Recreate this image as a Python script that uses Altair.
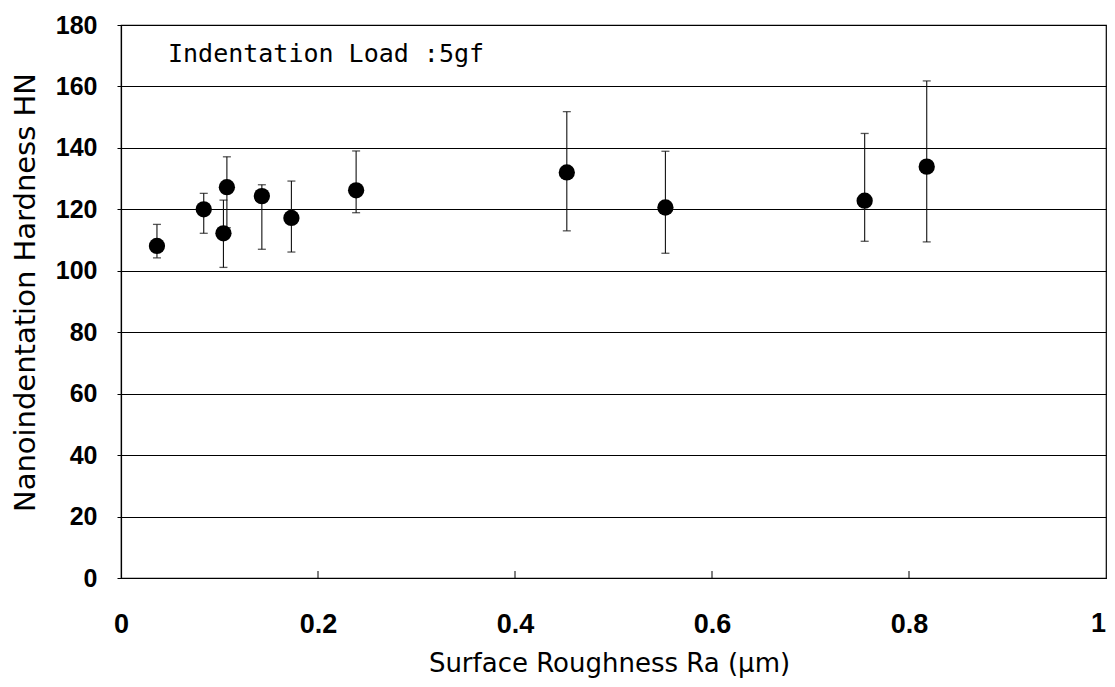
import altair as alt
import pandas as pd

# Surface roughness Ra (um)
ra = [0.0365, 0.084, 0.104, 0.1075, 0.143, 0.173, 0.2387, 0.4526, 0.5527, 0.755, 0.818]
# Nanoindentation hardness HN (mean)
hn = [108.1, 120.0, 112.2, 127.2, 124.3, 117.2, 126.2, 132.0, 120.6, 122.8, 133.9]
# Error bar upper / lower ends
hn_hi = [115.1, 125.2, 123.0, 137.1, 128.0, 129.2, 139.0, 151.8, 138.9, 144.7, 161.8]
hn_lo = [104.2, 112.2, 101.1, 114.0, 107.0, 106.1, 118.9, 113.0, 105.7, 109.6, 109.4]

x_ticks = [0, 0.2, 0.4, 0.6, 0.8]
x_last_tick = [1]
inner_ticks = [0.2, 0.4, 0.6, 0.8]
y_ticks = [0, 20, 40, 60, 80, 100, 120, 140, 160, 180]

df = pd.DataFrame({"ra": ra, "hn": hn, "hi": hn_hi, "lo": hn_lo})
tick_df = pd.DataFrame({"t": inner_ticks})
last_df = pd.DataFrame({"t": x_last_tick, "lab": [str(v) for v in x_last_tick]})

W, H = 985, 553

x_scale = alt.Scale(domain=[0, 1], nice=False, zero=False)
y_scale = alt.Scale(domain=[0, 180], nice=False)

x_axis = alt.Axis(
    values=x_ticks, format="~g", grid=False, ticks=False, tickSize=0,
    domainColor="black", domainWidth=1.2, labelFlush=False, labelOverlap=False,
    labelFont="Liberation Sans", labelFontWeight="bold", labelFontSize=27,
    labelColor="black", labelPadding=33,
    title="Surface Roughness Ra (μm)", titleFont="DejaVu Sans",
    titleFontSize=26, titleFontWeight="normal", titleColor="black",
    titleY=93, titleX=488, titleAlign="center", titleBaseline="alphabetic",
)
y_axis = alt.Axis(
    values=y_ticks, grid=True, gridColor="black", gridWidth=1.1, gridOpacity=1,
    ticks=True, tickSize=4, tickColor="black", labelFlush=False,
    domainColor="black", domainWidth=1.2,
    labelFont="Liberation Sans", labelFontWeight="bold", labelFontSize=25,
    labelColor="black", labelPadding=20,
    title="Nanoindentation Hardness HN", titleFont="DejaVu Sans",
    titleFontSize=29, titleFontWeight="normal", titleColor="black",
    titleX=-87, titleY=267, titleAngle=-90, titleAlign="center",
    titleBaseline="alphabetic",
)

base = alt.Chart(df)

points_axes = base.mark_circle(size=265, color="black", opacity=1).encode(
    x=alt.X("ra:Q", scale=x_scale, axis=x_axis),
    y=alt.Y("hn:Q", scale=y_scale, axis=y_axis),
)

err = base.mark_rule(color="#111", strokeWidth=1.1).encode(
    x=alt.X("ra:Q", scale=x_scale),
    y=alt.Y("lo:Q", scale=y_scale),
    y2="hi:Q",
)
cap_hi = base.mark_tick(orient="horizontal", size=8, thickness=1.3, color="#111").encode(
    x=alt.X("ra:Q", scale=x_scale),
    y=alt.Y("hi:Q", scale=y_scale),
)
cap_lo = base.mark_tick(orient="horizontal", size=8, thickness=1.3, color="#111").encode(
    x=alt.X("ra:Q", scale=x_scale),
    y=alt.Y("lo:Q", scale=y_scale),
)

inner = alt.Chart(tick_df).mark_rule(color="black", strokeWidth=1).encode(
    x=alt.X("t:Q", scale=x_scale),
    y=alt.value(H),
    y2=alt.value(H - 7),
)

# last x tick label drawn as text so it stays inside the page edge
last_label = alt.Chart(last_df).mark_text(
    font="Liberation Sans", fontWeight="bold", fontSize=27, color="black",
    align="right", baseline="alphabetic", dx=0,
).encode(
    x=alt.X("t:Q", scale=x_scale),
    y=alt.value(H + 54),
    text="lab:N",
)

label = alt.Chart(pd.DataFrame({"txt": ["Indentation Load :5gf"]})).mark_text(
    font="DejaVu Sans Mono", fontSize=25, color="black",
    align="left", baseline="alphabetic",
).encode(
    text="txt:N",
    x=alt.value(47),
    y=alt.value(37),
)

chart = alt.layer(err, cap_hi, cap_lo, inner, points_axes, last_label, label).properties(
    width=W, height=H,
    autosize=alt.AutoSizeParams(type="none"),
    padding={"left": 113, "top": 17, "right": 1, "bottom": 101},
    background="white",
).configure_view(stroke="black", strokeWidth=1.2)

chart.save("out.html", embed_options={"renderer": "svg", "actions": False})
